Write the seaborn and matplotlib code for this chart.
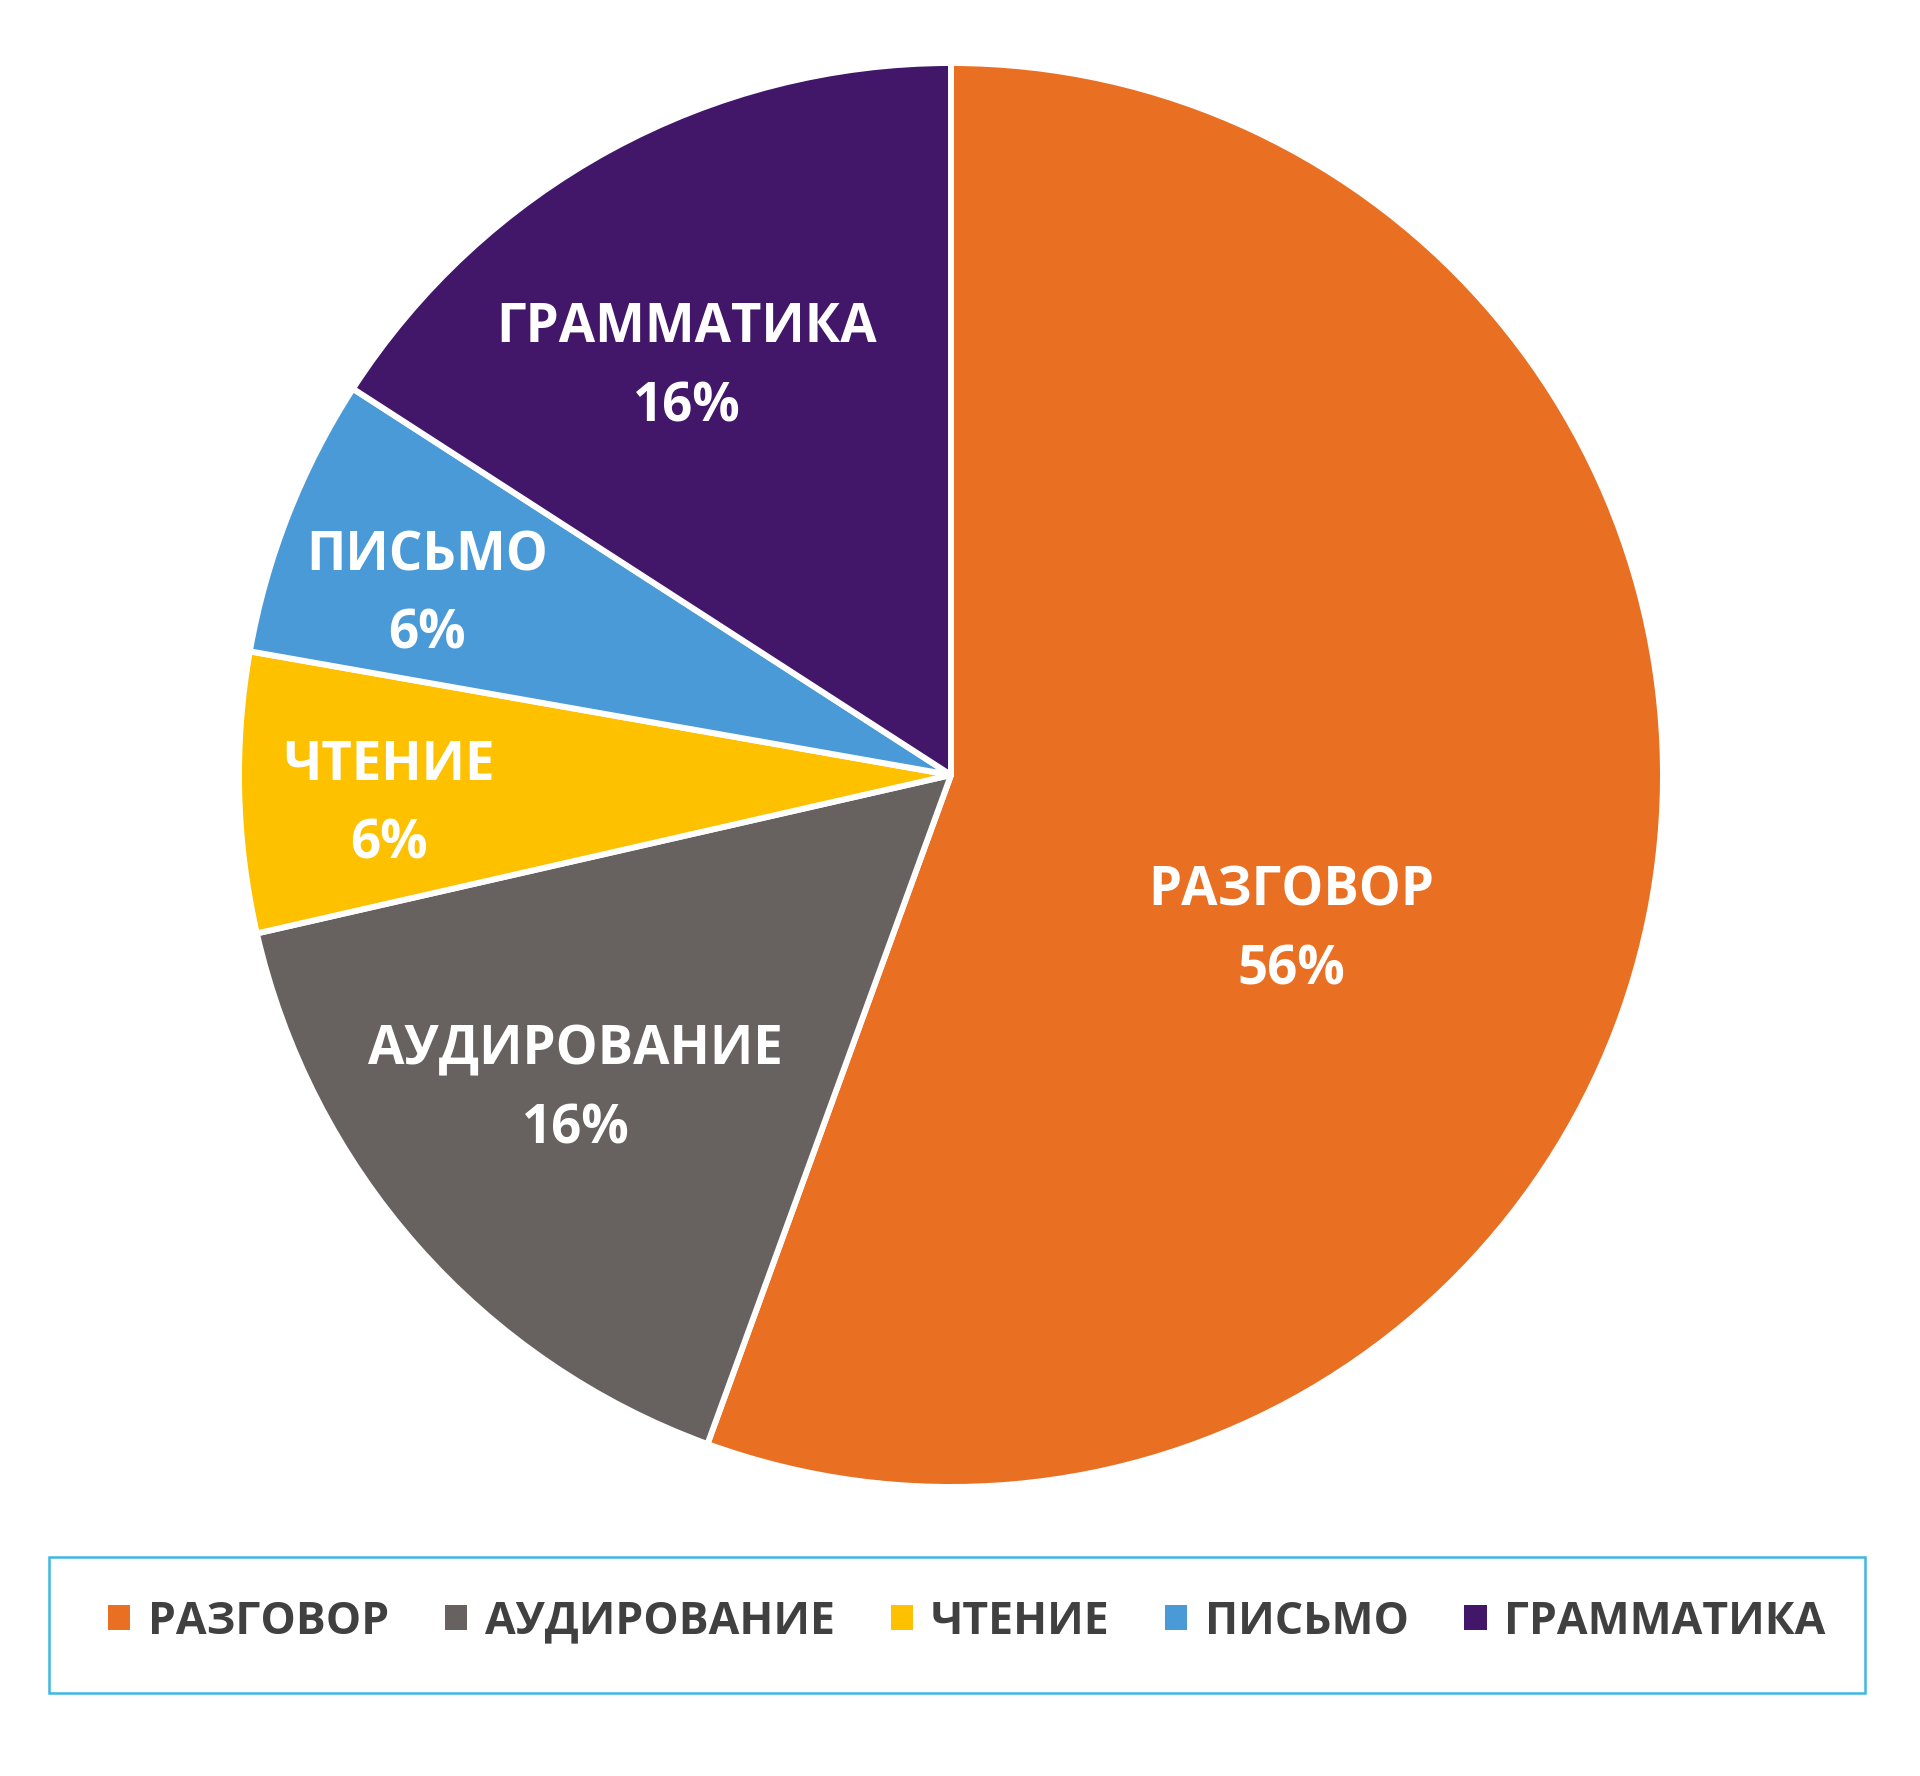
import matplotlib
matplotlib.use("Agg")
import matplotlib.pyplot as plt
import seaborn as sns
from matplotlib.patches import Rectangle, Patch

sns.set_style("white")
plt.rcParams['font.family'] = ['Open Sans', 'DejaVu Sans']

categories = ["РАЗГОВОР", "АУДИРОВАНИЕ", "ЧТЕНИЕ", "ПИСЬМО", "ГРАММАТИКА"]
values = [35, 10, 4, 4, 10]
colors = ["#E96F22", "#676160", "#FDC100", "#4A9AD8", "#421769"]
# label anchor positions (fraction of radius)
label_pos = [(0.478, -0.219), (-0.527, -0.442), (-0.789, -0.043), (-0.736, 0.252), (-0.371, 0.572)]

W, H = 1920, 1776
fig = plt.figure(figsize=(W / 100, H / 100), dpi=100)
cx, cy, R = 951, 775, 712
ax = fig.add_axes([(cx - R) / W, (H - cy - R) / H, 2 * R / W, 2 * R / H])

wedges, _ = ax.pie(values, colors=colors, startangle=90, counterclock=False,
                   radius=1.0, wedgeprops=dict(edgecolor="white", linewidth=4.3))
for w in wedges:
    w.set_joinstyle("round")
ax.set_xlim(-1, 1)
ax.set_ylim(-1, 1)
ax.set_aspect("equal")
ax.axis("off")

total = sum(values)
for cat, v, (lx, ly) in zip(categories, values, label_pos):
    pct = round(100 * v / total)
    ax.text(lx, ly, f"{cat}\n{pct}%", ha="center", va="center", color="white",
            fontsize=38, fontweight="bold", linespacing=1.6)

# legend
handles = [Patch(facecolor=c, edgecolor="none") for c in colors]
leg = fig.legend(handles, categories, loc="center", ncol=5,
                 bbox_to_anchor=(967 / W, (H - 1622) / H), frameon=False,
                 prop=dict(family=['Open Sans', 'DejaVu Sans'], weight="bold", size=32),
                 labelcolor="#404040", handlelength=0.5, handleheight=0.5,
                 handletextpad=0.4, columnspacing=1.25)

fig.patches.append(Rectangle((49 / W, (H - 1693) / H), (1865 - 49) / W, (1693 - 1557) / H,
                             transform=fig.transFigure, fill=False,
                             edgecolor="#3DB8E0", linewidth=1.8))

fig.savefig("out.png", dpi=100, facecolor="white")
